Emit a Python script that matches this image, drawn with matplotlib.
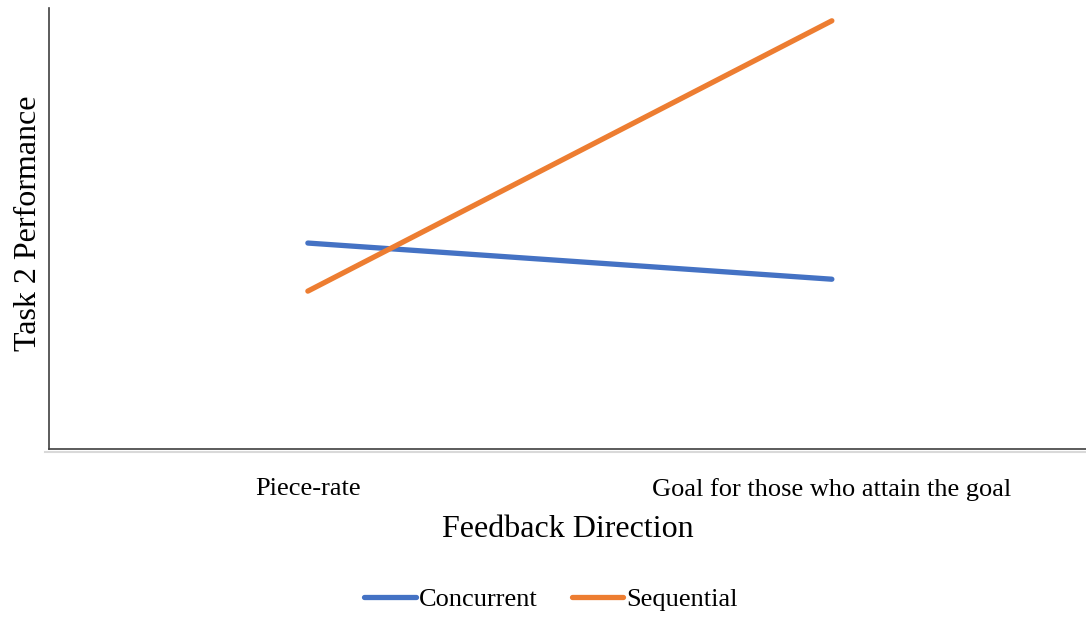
import matplotlib.pyplot as plt
from matplotlib.lines import Line2D

plt.rcParams['font.family'] = ['Liberation Serif', 'DejaVu Serif']

# category labels and the two series (arbitrary performance units)
categories = ['Piece-rate', 'Goal for those who attain the goal']
concurrent = [4.67, 3.85]
sequential = [3.58, 9.71]

fig = plt.figure(figsize=(10.86, 6.18), dpi=100)
ax = fig.add_axes([49 / 1086, 169 / 618, 1 - 49 / 1086, 441 / 618])

x = range(len(categories))
ax.plot(x, concurrent, color='#4472C4', lw=3.8, solid_capstyle='round', label='Concurrent')
ax.plot(x, sequential, color='#ED7D31', lw=3.8, solid_capstyle='round', label='Sequential')

ax.set_xlim(-0.494, 1.485)
ax.set_ylim(0, 10)

ax.set_xticks(list(x))
ax.set_xticklabels(categories, fontsize=19)
ax.tick_params(axis='x', length=0, pad=21)
ax.set_yticks([])

for s in ['top', 'right']:
    ax.spines[s].set_visible(False)
for s in ['left', 'bottom']:
    ax.spines[s].set_color('#404040')
    ax.spines[s].set_linewidth(1.2)

# faint shadow line under the category axis
fig.add_artist(Line2D([45 / 1086, 1], [1 - 452 / 618] * 2, color='#d9d9d9', lw=1.5))

ax.set_xlabel('Feedback Direction', fontsize=23, labelpad=10)
ax.set_ylabel('Task 2 Performance', fontsize=23, va='center')
ax.yaxis.set_label_coords(-20 / 1037, 0.513)

fig.legend(loc='center', bbox_to_anchor=(551 / 1086, 1 - 599 / 618), ncol=2,
           frameon=False, fontsize=19, handlelength=1.95, handletextpad=0.12,
           columnspacing=1.3)

plt.savefig('out.png', dpi=100)
